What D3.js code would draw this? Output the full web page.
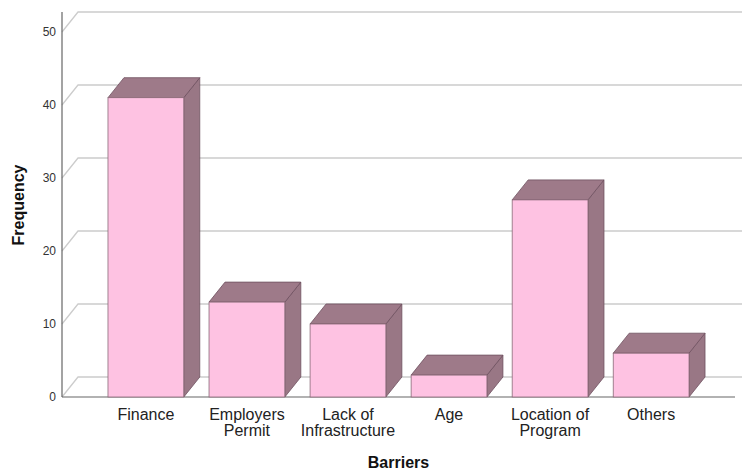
<!DOCTYPE html>
<html>
<head>
<meta charset="utf-8">
<script src="https://cdn.jsdelivr.net/npm/d3@7"></script>
<style>
  html, body { margin: 0; padding: 0; background: #fff; }
  svg { display: block; font-family: "Liberation Sans", Arial, sans-serif; }
</style>
</head>
<body>
<svg id="chart" width="742" height="473"></svg>
<script>
const categories = [["Finance"], ["Employers", "Permit"], ["Lack of", "Infrastructure"], ["Age"], ["Location of", "Program"], ["Others"]];
const values = [41, 13, 10, 3, 27, 6];
const yTicks = [0, 10, 20, 30, 40, 50];
const xTitle = "Barriers";
const yTitle = "Frequency";

const svg = d3.select("#chart");
const depthX = 16, depthY = -20;
const x = d3.scaleBand().domain(d3.range(categories.length)).range([62, 735])
  .paddingInner(0.25).paddingOuter(0.455);
const y = d3.scaleLinear().domain([0, 50]).range([397, 32]);

// gridlines (back plane + diagonal to front axis)
const grid = svg.append("g");
yTicks.forEach(t => {
  grid.append("path")
    .attr("d", `M${62},${y(t)} L${62 + depthX},${y(t) + depthY} L742,${y(t) + depthY}`)
    .attr("fill", "none").attr("stroke", "#cccccc").attr("stroke-width", 1.3);
});

// y axis line
svg.append("line").attr("x1", 62).attr("x2", 62).attr("y1", y(50) + depthY).attr("y2", y(0))
  .attr("stroke", "#666").attr("stroke-width", 1.2);
// x axis line
svg.append("line").attr("x1", 62).attr("x2", 735).attr("y1", y(0)).attr("y2", y(0))
  .attr("stroke", "#666").attr("stroke-width", 1.2);

// y tick labels via d3 axis
const yAxis = svg.append("g").attr("transform", "translate(56,0)")
  .call(d3.axisLeft(y).tickValues(yTicks).tickSize(0).tickPadding(0));
yAxis.select(".domain").remove();
yAxis.selectAll("text").attr("font-size", 12).attr("fill", "#333")
  .attr("font-family", "Liberation Sans, Arial, sans-serif");

// bars
const bars = svg.append("g");
values.forEach((v, i) => {
  const x0 = x(i), x1 = x(i) + x.bandwidth();
  const yt = y(v), yb = y(0);
  // side face
  bars.append("path")
    .attr("d", `M${x1},${yb} L${x1},${yt} L${x1 + depthX},${yt + depthY} L${x1 + depthX},${yb + depthY} Z`)
    .attr("fill", "#997785").attr("stroke", "#6e5160").attr("stroke-width", 0.8);
  // top face
  bars.append("path")
    .attr("d", `M${x0},${yt} L${x0 + depthX},${yt + depthY} L${x1 + depthX},${yt + depthY} L${x1},${yt} Z`)
    .attr("fill", "#9e7a89").attr("stroke", "#6e5160").attr("stroke-width", 0.8);
  // front face
  bars.append("rect")
    .attr("x", x0).attr("y", yt).attr("width", x.bandwidth()).attr("height", yb - yt)
    .attr("fill", "#fec2e2").attr("stroke", "#8a6a78").attr("stroke-width", 0.8);
});

// category labels
const labels = svg.append("g");
categories.forEach((lines, i) => {
  const cx = x(i) + x.bandwidth() / 2;
  const t = labels.append("text").attr("text-anchor", "middle")
    .attr("font-size", 16).attr("fill", "#222");
  lines.forEach((ln, j) => {
    t.append("tspan").attr("x", cx).attr("y", 420 + j * 15.5).text(ln);
  });
});

// axis titles
svg.append("text").attr("x", 398.5).attr("y", 468).attr("text-anchor", "middle")
  .attr("font-size", 16).attr("font-weight", "bold").attr("fill", "#111").text(xTitle);
svg.append("text").attr("transform", "translate(24,205) rotate(-90)").attr("text-anchor", "middle")
  .attr("font-size", 16).attr("font-weight", "bold").attr("fill", "#111").text(yTitle);
</script>
</body>
</html>
